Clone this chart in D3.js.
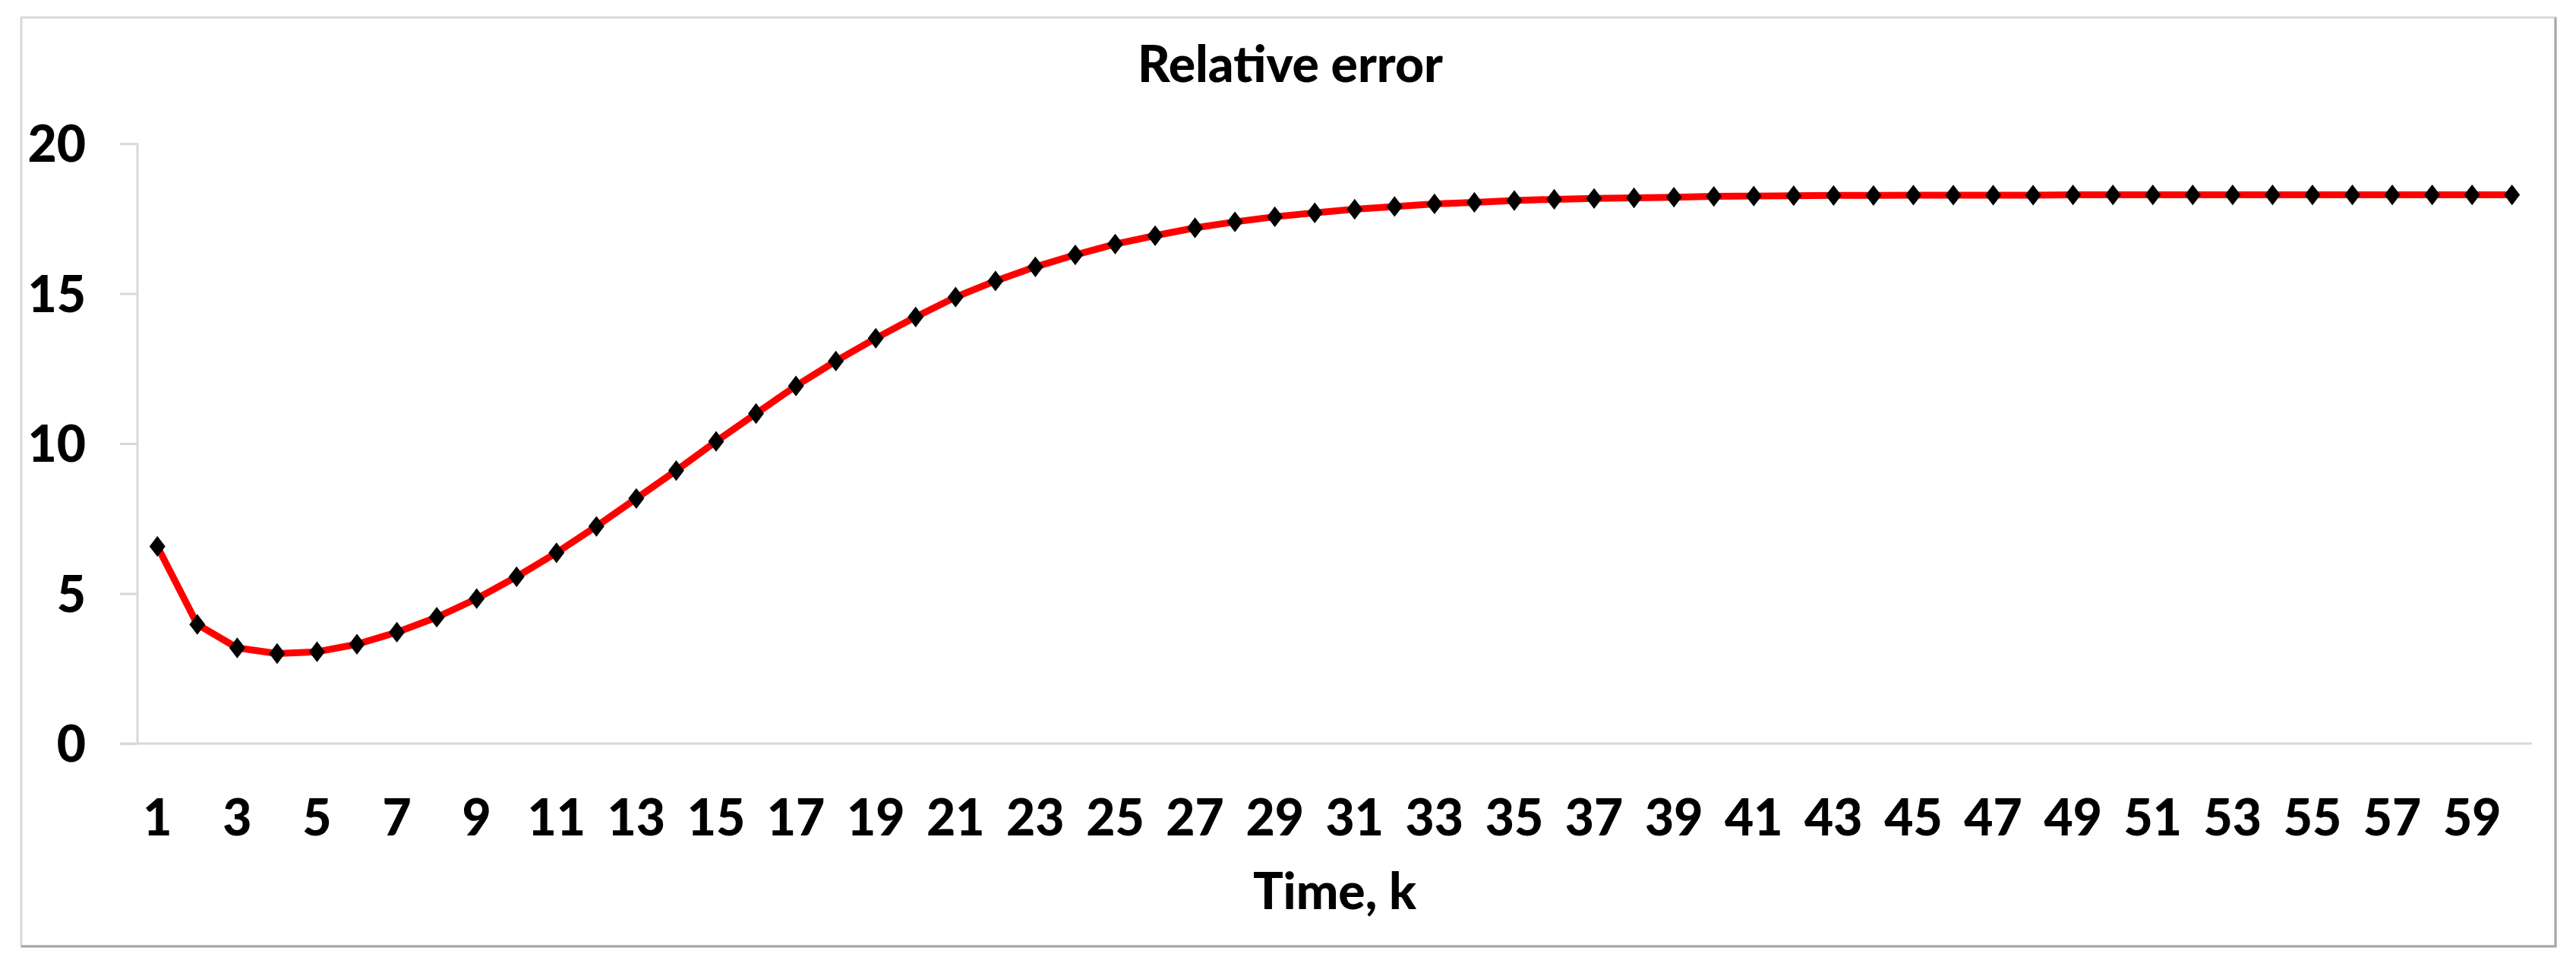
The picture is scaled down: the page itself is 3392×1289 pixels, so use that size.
<!DOCTYPE html>
<html>
<head>
<meta charset="utf-8">
<script src="https://cdn.jsdelivr.net/npm/d3@7"></script>
<style>
  body { margin: 0; background: #fff; }
  text { font-family: Lato, "Open Sans", sans-serif; font-weight: 900; fill: #000; }
</style>
</head>
<body>
<div id="chart"></div>
<script>
// data
let steps = d3.range(1, 61);
let relError = [
  6.57, 3.97, 3.19, 3.00, 3.06, 3.31, 3.71, 4.21, 4.83, 5.56,
  6.36, 7.24, 8.17, 9.10, 10.07, 11.00, 11.92, 12.75, 13.51, 14.22,
  14.88, 15.42, 15.89, 16.29, 16.65, 16.93, 17.19, 17.39, 17.56, 17.69,
  17.81, 17.90, 17.99, 18.04, 18.10, 18.14, 18.17, 18.19, 18.21, 18.24,
  18.25, 18.26, 18.27, 18.27, 18.28, 18.28, 18.28, 18.28, 18.29, 18.29,
  18.29, 18.29, 18.29, 18.29, 18.29, 18.29, 18.29, 18.29, 18.29, 18.29
];
let yTicks = [0, 5, 10, 15, 20];
let xTickLabels = steps.filter(k => k % 2 === 1);

let chartTitle = "Relative error";
let xTitle = "Time, k";

// svg size
let svgWidth = 3392;
let svgHeight = 1289;

// plot area
let margin = { top: 189, right: 58, bottom: 310, left: 181 };
let width = 3334 - margin.left;
let height = 979 - margin.top;

let svg = d3.select("#chart")
  .append("svg")
  .attr("width", svgWidth)
  .attr("height", svgHeight);

// chart frame, darker on right/bottom like the original
svg.append("rect")
  .attr("x", 28).attr("y", 23)
  .attr("width", 3365 - 28).attr("height", 1246 - 23)
  .attr("fill", "#fff")
  .attr("stroke", "#d9d9d9")
  .attr("stroke-width", 3);
svg.append("path")
  .attr("d", "M3365,23V1246H28")
  .attr("fill", "none")
  .attr("stroke", "#a6a6a6")
  .attr("stroke-width", 3);

let chartGroup = svg.append("g")
  .attr("transform", `translate(${margin.left}, ${margin.top})`);

// scales
let xScale = d3.scaleBand()
  .domain(steps)
  .range([0, width]);

let yScale = d3.scaleLinear()
  .domain([0, 20])
  .range([height, 0]);

// y axis
let leftAxis = d3.axisLeft(yScale)
  .tickValues(yTicks)
  .tickSize(23)
  .tickPadding(45);

let yAxisG = chartGroup.append("g").call(leftAxis);
yAxisG.select(".domain").attr("stroke", "#d9d9d9").attr("stroke-width", 3)
  .attr("d", `M0,0V${height}`);
yAxisG.selectAll(".tick line").attr("stroke", "#d9d9d9").attr("stroke-width", 3);
yAxisG.selectAll(".tick text")
  .attr("font-size", 66)
  .attr("dy", "0.36em");

// x axis (category labels every second step, no tick marks)
let bottomAxis = d3.axisBottom(xScale)
  .tickValues(xTickLabels)
  .tickSize(0)
  .tickPadding(0);

let xAxisG = chartGroup.append("g")
  .attr("transform", `translate(0, ${height})`)
  .call(bottomAxis);
xAxisG.select(".domain").attr("stroke", "#d9d9d9").attr("stroke-width", 3)
  .attr("d", `M-23,0H${width}`);
xAxisG.selectAll(".tick text")
  .attr("font-size", 66)
  .attr("dy", 0)
  .attr("y", 1100 - 979);

// the line
let xPos = k => xScale(k) + xScale.bandwidth() / 2;

let line = d3.line()
  .x((d, i) => xPos(steps[i]))
  .y(d => yScale(d));

chartGroup.append("path")
  .datum(relError)
  .attr("d", line)
  .attr("fill", "none")
  .attr("stroke", "#ff0000")
  .attr("stroke-width", 9)
  .attr("stroke-linejoin", "round");

// diamond markers, a bit taller than wide
let tallDiamond = {
  draw(context, size) {
    let r = Math.sqrt(size) / 2;
    context.moveTo(0, -r * 1.3);
    context.lineTo(r, 0);
    context.lineTo(0, r * 1.3);
    context.lineTo(-r, 0);
    context.closePath();
  }
};

chartGroup.append("g")
  .selectAll("path")
  .data(relError)
  .enter()
  .append("path")
    .attr("d", d3.symbol().type(tallDiamond).size(440))
    .attr("transform", (d, i) => `translate(${xPos(steps[i])}, ${yScale(d)})`)
    .attr("fill", "#000");

// titles
svg.append("text")
  .attr("x", 1699)
  .attr("y", 108)
  .attr("text-anchor", "middle")
  .attr("font-size", 66)
  .text(chartTitle);

svg.append("text")
  .attr("x", margin.left + width / 2)
  .attr("y", 1197)
  .attr("text-anchor", "middle")
  .attr("font-size", 66)
  .text(xTitle);
</script>
</body>
</html>
